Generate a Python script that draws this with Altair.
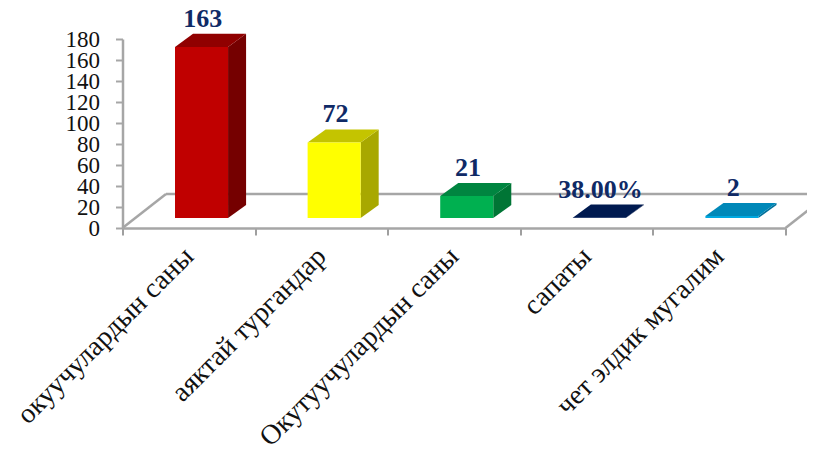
import altair as alt
import pandas as pd

categories = ["окуучулардын саны", "аяктай тургандар", "Окутуучулардын саны", "сапаты", "чет элдик мугалим"]
values = [163, 72, 21, 0.38, 2]
value_labels = ["163", "72", "21", "38.00%", "2"]
front_colors = ["#C00000", "#FFFF00", "#00B050", "#002060", "#00A8E0"]
top_colors = ["#900000", "#C4C400", "#008540", "#001A50", "#0088B8"]
side_colors = ["#750000", "#A8A800", "#007535", "#001540", "#00709A"]
y_ticks = list(range(0, 181, 20))

# 3-D box geometry, in axis units
BAR_START, BAR_WIDTH = 0.396, 0.40
BAR_BASE, DEPTH_X, DEPTH_Y = 9.5, 0.136, 12.4
FLOOR_X, FLOOR_Y = 0.328, 32.4
GRAY = "#A6A6A6"
SERIF = "Liberation Serif"

front, side, top = [], [], []
for i, v in enumerate(values):
    x0 = i + BAR_START
    x1 = x0 + BAR_WIDTH
    low, high = BAR_BASE, BAR_BASE + v
    front.append(dict(x=x0, x2=x1, y=low, y2=high, c=front_colors[i]))
    side.append(dict(x=x1, y=low, y2=high, c=side_colors[i], id=i))
    side.append(dict(x=x1 + DEPTH_X, y=low + DEPTH_Y, y2=high + DEPTH_Y, c=side_colors[i], id=i))
    top.append(dict(y=high, x=x0, x2=x1, c=top_colors[i], id=i))
    top.append(dict(y=high + DEPTH_Y, x=x0 + DEPTH_X, x2=x1 + DEPTH_X, c=top_colors[i], id=i))

n = len(categories)
floor_edges = pd.DataFrame([
    dict(x=0, y=0, x2=FLOOR_X, y2=FLOOR_Y),
    dict(x=FLOOR_X, y=FLOOR_Y, x2=n + FLOOR_X, y2=FLOOR_Y),
    dict(x=n, y=0, x2=n + FLOOR_X, y2=FLOOR_Y),
])

xq = alt.Scale(domain=[0, n], nice=False, zero=False)
yq = alt.Scale(domain=[0, 180], nice=False)
y_axis = alt.Axis(
    values=y_ticks, domainColor=GRAY, domainWidth=2.5, tickColor=GRAY, tickWidth=2, tickSize=7,
    grid=False, labelFont=SERIF, labelFontSize=23, labelColor="#111111", labelPadding=16,
    labelOverlap=False, labelBound=False, labelFlush=False)
X = alt.X("x:Q", scale=xq, axis=None)
Y = alt.Y("y:Q", scale=yq, title=None, axis=y_axis)
C = alt.Color("c:N", scale=None)

floor = alt.Chart(floor_edges).mark_rule(color=GRAY, strokeWidth=2.5, clip=False).encode(
    x=X, x2="x2:Q", y=Y, y2="y2:Q")
side_l = alt.Chart(pd.DataFrame(side)).mark_area(opacity=1).encode(
    x=X, y=Y, y2="y2:Q", color=C, detail="id:N")
top_l = alt.Chart(pd.DataFrame(top)).mark_area(orient="horizontal", opacity=1).encode(
    y=Y, x=X, x2="x2:Q", color=C, detail="id:N")
front_l = alt.Chart(pd.DataFrame(front)).mark_rect(opacity=1).encode(
    x=X, x2="x2:Q", y=Y, y2="y2:Q", color=C)

labels_df = pd.DataFrame(dict(cat=categories, y=values, t=value_labels))
xn = alt.X("cat:N", sort=categories, title=None,
           scale=alt.Scale(paddingInner=0, paddingOuter=0),
           axis=alt.Axis(tickBand="extent", domainColor=GRAY, domainWidth=2.5, tickColor="#7F7F7F",
                         tickWidth=1.5, tickSize=7, labelAngle=-45, labelAlign="right",
                         labelBaseline="middle", labelFont=SERIF, labelFontSize=28,
                         labelColor="#111111", labelPadding=17, labelLimit=500,
                         labelOverlap=False, labelBound=False, labelFlush=False, grid=False))
texts = alt.Chart(labels_df).mark_text(
    font=SERIF, fontSize=26, fontWeight="bold", color="#0F2A66", dx=14, dy=-30,
    baseline="alphabetic", align="center").encode(
    x=xn, y=Y, text="t:N")

chart = alt.layer(floor, side_l, top_l, front_l, texts).resolve_scale(x="independent").properties(
    width=663, height=189,
    padding={"left": 114.5, "top": 31, "right": 21.5, "bottom": 224},
    autosize=alt.AutoSizeParams(type="none"),
).configure_view(stroke=None)

chart.save("out.html", embed_options={"renderer": "svg", "actions": False})
